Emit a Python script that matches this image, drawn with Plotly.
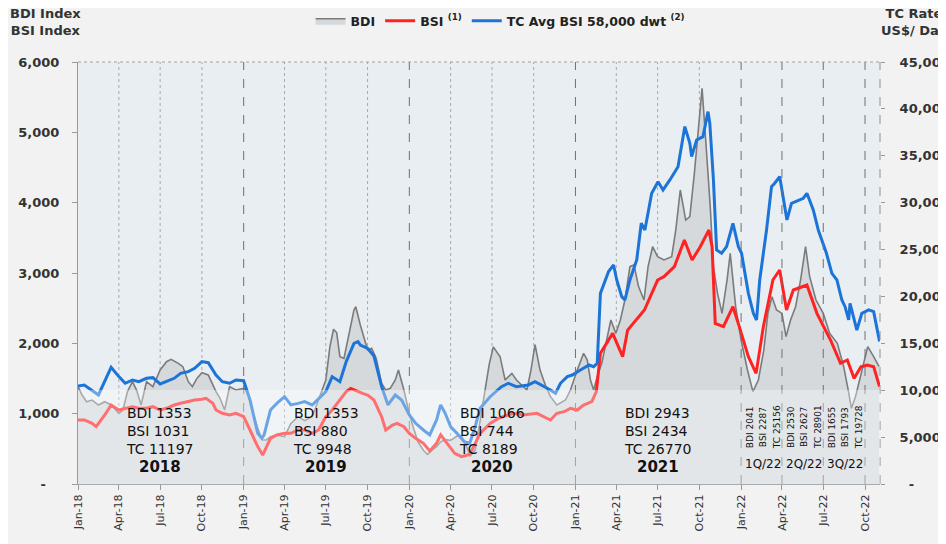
import plotly.graph_objects as go
import pandas as pd

# ---------------- data ----------------
bdi_dates = [
    "2018-01-01", "2018-01-10", "2018-01-20", "2018-02-01", "2018-02-15", "2018-03-01", "2018-03-15",
    "2018-04-01", "2018-04-10", "2018-04-20", "2018-05-01", "2018-05-10", "2018-05-20", "2018-06-01",
    "2018-06-15", "2018-07-01", "2018-07-15", "2018-07-25", "2018-08-10", "2018-08-20", "2018-09-01",
    "2018-09-10", "2018-09-20", "2018-10-01", "2018-10-15", "2018-11-01", "2018-11-10", "2018-11-20",
    "2018-12-01", "2018-12-15",
    "2019-01-01", "2019-01-10", "2019-01-20", "2019-02-01", "2019-02-11", "2019-02-20", "2019-03-01",
    "2019-03-15", "2019-04-01", "2019-04-15", "2019-05-01", "2019-05-15", "2019-06-01", "2019-06-15",
    "2019-07-01", "2019-07-10", "2019-07-18", "2019-07-25", "2019-08-01", "2019-08-10", "2019-08-20",
    "2019-09-01", "2019-09-05", "2019-09-15", "2019-10-01", "2019-10-10", "2019-10-20", "2019-11-01",
    "2019-11-10", "2019-11-20", "2019-12-01", "2019-12-08", "2019-12-20",
    "2020-01-01", "2020-01-10", "2020-01-20", "2020-02-01", "2020-02-10", "2020-02-20", "2020-03-01",
    "2020-03-10", "2020-03-20", "2020-04-01", "2020-04-15", "2020-04-25", "2020-05-05", "2020-05-14",
    "2020-05-25", "2020-06-05", "2020-06-15", "2020-06-25", "2020-07-04", "2020-07-19", "2020-07-30",
    "2020-08-14", "2020-08-24", "2020-09-16", "2020-09-25", "2020-10-04", "2020-10-15", "2020-10-28",
    "2020-11-07", "2020-11-21", "2020-12-10", "2020-12-21",
    "2021-01-05", "2021-01-19", "2021-01-27", "2021-02-03", "2021-02-10", "2021-02-20", "2021-02-28",
    "2021-03-10", "2021-03-20", "2021-03-31", "2021-04-10", "2021-04-20", "2021-05-01", "2021-05-10",
    "2021-05-20", "2021-06-01", "2021-06-10", "2021-06-20", "2021-07-01", "2021-07-15", "2021-08-01",
    "2021-08-10", "2021-08-20", "2021-09-01", "2021-09-10", "2021-09-20", "2021-10-01", "2021-10-07",
    "2021-10-15", "2021-10-25", "2021-11-01", "2021-11-10", "2021-11-20", "2021-12-01", "2021-12-08",
    "2021-12-20",
    "2022-01-01", "2022-01-15", "2022-01-27", "2022-02-08", "2022-02-20", "2022-03-01", "2022-03-10",
    "2022-03-20", "2022-04-01", "2022-04-10", "2022-04-20", "2022-05-01", "2022-05-12", "2022-05-23",
    "2022-06-01", "2022-06-15", "2022-07-01", "2022-07-15", "2022-08-01", "2022-08-15", "2022-08-25",
    "2022-09-01", "2022-09-10", "2022-09-25", "2022-10-07", "2022-10-20", "2022-11-01",
]
bdi_values = [
    1384, 1265, 1170, 1194, 1123, 1170, 1123,
    1005, 1052, 1313, 1455, 1336, 1123, 1455,
    1384, 1621, 1739, 1772, 1716, 1668, 1455,
    1384, 1502, 1583, 1550, 1313, 1218, 1052,
    1384, 1336,
    1360, 1313, 1052, 791, 630, 626, 673,
    697, 673, 862, 957, 900, 957, 1194,
    1479, 1953, 2200, 2150, 1810, 1787, 2095,
    2474, 2521, 2260, 1905, 1929, 1787, 1431,
    1336, 1360, 1479, 1621, 1336,
    1000, 800, 600, 480, 420, 480, 530,
    600, 630, 620, 680, 680, 550, 400,
    480, 900, 1300, 1700, 1950, 1810, 1479,
    1573, 1479, 1336, 1620, 1980, 1620, 1384,
    1242, 1123, 1194, 1336,
    1620, 1858, 1763, 1479, 1336, 1573, 1716,
    2000, 2332, 2142, 2332, 2616, 3090, 3114,
    2806, 2616, 3090, 3374, 3232, 3185, 3232,
    3611, 4180, 3753, 3801, 4417, 5175, 5625,
    4891, 3943, 3090, 2711, 2426, 2900, 3279,
    2521,
    2047, 1621, 1313, 1479, 1905, 2426, 2663,
    2474, 2426, 2095, 2332, 2521, 2900, 3374,
    2948, 2616, 2426, 2142, 2000, 1668, 1336,
    1076, 1242, 1621, 1953, 1810, 1668,
]

bsi_dates = [
    "2018-01-01", "2018-01-15", "2018-02-01", "2018-02-10", "2018-03-01", "2018-03-15", "2018-04-01",
    "2018-04-15", "2018-05-01", "2018-05-15", "2018-06-01", "2018-06-15", "2018-07-01", "2018-07-15",
    "2018-08-01", "2018-08-15", "2018-09-01", "2018-09-15", "2018-10-01", "2018-10-10", "2018-10-25",
    "2018-11-01", "2018-11-15", "2018-12-01", "2018-12-15",
    "2019-01-01", "2019-01-15", "2019-02-01", "2019-02-12", "2019-02-20", "2019-03-01", "2019-03-15",
    "2019-04-01", "2019-04-15", "2019-05-01", "2019-05-15", "2019-06-01", "2019-06-15", "2019-07-01",
    "2019-07-15", "2019-08-01", "2019-08-15", "2019-08-25", "2019-09-10", "2019-09-20", "2019-10-01",
    "2019-10-15", "2019-11-01", "2019-11-10", "2019-11-25", "2019-12-05", "2019-12-20",
    "2020-01-01", "2020-01-15", "2020-02-01", "2020-02-15", "2020-03-01", "2020-03-10", "2020-03-25",
    "2020-04-10", "2020-04-25", "2020-05-13", "2020-06-05", "2020-06-27", "2020-07-15", "2020-07-26",
    "2020-08-17", "2020-09-08", "2020-10-08", "2020-11-07", "2020-11-21", "2020-12-07", "2020-12-21",
    "2021-01-05", "2021-01-19", "2021-02-06", "2021-02-16", "2021-02-25", "2021-03-24", "2021-04-15",
    "2021-04-26", "2021-06-02", "2021-07-01", "2021-07-15", "2021-08-07", "2021-08-29", "2021-09-15",
    "2021-10-03", "2021-10-22", "2021-10-29", "2021-11-05", "2021-11-23", "2021-12-14", "2021-12-28",
    "2022-01-17", "2022-02-03", "2022-02-19", "2022-03-12", "2022-03-27", "2022-04-11", "2022-04-26",
    "2022-05-26", "2022-06-17", "2022-07-17", "2022-08-08", "2022-08-23", "2022-09-07", "2022-09-22",
    "2022-10-06", "2022-10-20", "2022-11-02",
]
bsi_values = [
    910, 910, 862, 815, 981, 1123, 1052,
    1076, 1099, 1076, 1076, 1099, 1052, 1076,
    1123, 1147, 1170, 1194, 1204, 1218, 1147,
    1052, 1005, 981, 1005,
    957, 768, 531, 412, 531, 649, 697,
    720, 720, 768, 768, 720, 768, 957,
    1052, 1194, 1313, 1360, 1313, 1289, 1265,
    1194, 957, 768, 839, 862, 815,
    720, 649, 578, 470, 578, 700, 578,
    436, 389, 420, 720, 862, 933, 957,
    1005, 981, 1005, 910, 1005, 1028, 1076,
    1052, 1123, 1170, 1313, 1858, 2142, 1810,
    2189, 2474, 2900, 2948, 3090, 3469, 3185,
    3374, 3611, 3374, 2284, 2237, 2521, 2237,
    1810, 1573, 2237, 2900, 3043, 2474, 2758,
    2829, 2426, 2047, 1716, 1763, 1502, 1668,
    1692, 1668, 1384,
]

tc_dates = [
    "2018-01-01", "2018-01-15", "2018-02-15", "2018-03-01", "2018-03-15", "2018-04-01", "2018-04-15",
    "2018-05-01", "2018-05-15", "2018-06-01", "2018-06-15", "2018-07-01", "2018-07-15", "2018-08-01",
    "2018-08-15", "2018-09-01", "2018-09-15", "2018-10-01", "2018-10-15", "2018-11-01", "2018-11-15",
    "2018-12-01", "2018-12-15",
    "2019-01-01", "2019-01-15", "2019-02-01", "2019-02-10", "2019-02-15", "2019-03-01", "2019-03-15",
    "2019-04-01", "2019-04-15", "2019-05-01", "2019-05-15", "2019-06-01", "2019-06-15", "2019-07-01",
    "2019-07-15", "2019-08-01", "2019-08-15", "2019-09-01", "2019-09-10", "2019-09-15", "2019-10-01",
    "2019-10-15", "2019-11-01", "2019-11-15", "2019-12-01", "2019-12-15",
    "2020-01-01", "2020-01-15", "2020-02-01", "2020-02-15", "2020-03-01", "2020-03-10", "2020-03-20",
    "2020-04-01", "2020-04-15", "2020-05-01", "2020-05-13", "2020-05-25", "2020-06-05", "2020-06-27",
    "2020-07-22", "2020-08-06", "2020-08-24", "2020-09-19", "2020-10-04", "2020-10-19", "2020-11-07",
    "2020-11-18", "2020-11-29", "2020-12-14", "2020-12-25",
    "2021-01-12", "2021-01-31", "2021-02-10", "2021-02-18", "2021-02-25", "2021-03-15", "2021-03-26",
    "2021-04-02", "2021-04-13", "2021-04-20", "2021-05-01", "2021-05-16", "2021-05-26", "2021-06-03",
    "2021-06-18", "2021-07-02", "2021-07-13", "2021-07-28", "2021-08-15", "2021-08-26", "2021-08-30",
    "2021-09-10", "2021-09-14", "2021-09-25", "2021-10-09", "2021-10-20", "2021-10-24", "2021-11-01",
    "2021-11-08", "2021-11-19", "2021-11-30", "2021-12-14", "2021-12-26",
    "2022-01-02", "2022-01-17", "2022-01-28", "2022-02-04", "2022-02-11", "2022-02-26", "2022-03-09",
    "2022-03-16", "2022-03-27", "2022-04-08", "2022-04-12", "2022-04-22", "2022-05-07", "2022-05-18",
    "2022-05-26", "2022-06-09", "2022-06-20", "2022-07-08", "2022-07-20", "2022-07-31", "2022-08-11",
    "2022-08-18", "2022-08-26", "2022-08-29", "2022-09-13", "2022-09-24", "2022-10-09", "2022-10-20",
    "2022-11-02",
]
tc_values = [
    10450, 10560, 9490, 10900, 12440, 11450, 10740,
    11090, 10910, 11270, 11340, 10670, 10910, 11270,
    11800, 11980, 12340, 13050, 12940, 11620, 10910,
    10740, 11090,
    11020, 8960, 5400, 4870, 5230, 7890, 8600,
    9310, 8430, 8600, 8780, 8430, 9140, 9850,
    11450, 10910, 13050, 15000, 15180, 14820, 14470,
    13650, 10380, 8430, 9490, 8960,
    7360, 6470, 5760, 5230, 6830, 8430, 7540,
    6110, 5400, 4510, 4340, 6110, 8070, 9310,
    10380, 10740, 10380, 10560, 10910, 10560, 10030,
    9670, 10740, 11450, 11620,
    12160, 12690, 12510, 12870, 20330, 22650, 23360,
    21760, 19980, 19620, 21760, 23890, 27800, 27090,
    31000, 32240, 31360, 32420, 33840, 36690, 38110,
    36330, 34910, 36690, 37040, 39710, 38470, 32420,
    24960, 24600, 25310, 27800, 25310,
    24600, 20330, 18200, 17490, 21760, 27090, 31710,
    32070, 32780, 29580, 28160, 29930, 30290, 30470,
    31000, 29220, 27090, 24600, 22470, 21760, 19620,
    18910, 17490, 19270, 16420, 18200, 18560, 18380,
    15200,
]

x_tick_dates = [
    "2018-01-01", "2018-04-01", "2018-07-01", "2018-10-01",
    "2019-01-01", "2019-04-01", "2019-07-01", "2019-10-01",
    "2020-01-01", "2020-04-01", "2020-07-01", "2020-10-01",
    "2021-01-01", "2021-04-01", "2021-07-01", "2021-10-01",
    "2022-01-01", "2022-04-01", "2022-07-01", "2022-10-01",
]
x_tick_labels = [
    "Jan-18", "Apr-18", "Jul-18", "Oct-18",
    "Jan-19", "Apr-19", "Jul-19", "Oct-19",
    "Jan-20", "Apr-20", "Jul-20", "Oct-20",
    "Jan-21", "Apr-21", "Jul-21", "Oct-21",
    "Jan-22", "Apr-22", "Jul-22", "Oct-22",
]
y_left_ticks = [0, 1000, 2000, 3000, 4000, 5000, 6000]
y_left_labels = ["-\u00a0\u00a0\u00a0", "1,000", "2,000", "3,000", "4,000", "5,000", "6,000"]
y_right_ticks = [0, 5000, 10000, 15000, 20000, 25000, 30000, 35000, 40000, 45000]
y_right_labels = ["\u00a0\u00a0-", "5,000", "10,000", "15,000", "20,000", "25,000",
                  "30,000", "35,000", "40,000", "45,000"]

year_labels = ["2018", "2019", "2020", "2021"]
year_centers = ["2018-07-01", "2019-07-01", "2020-07-01", "2021-07-01"]
year_bdi = [1353, 1353, 1066, 2943]
year_bsi = [1031, 880, 744, 2434]
year_tc = [11197, 9948, 8189, 26770]

quarter_labels = ["1Q/22", "2Q/22", "3Q/22"]
quarter_starts = ["2022-01-01", "2022-04-01", "2022-07-01"]
quarter_bdi = [2041, 2530, 1655]
quarter_bsi = [2287, 2627, 1793]
quarter_tc = [25156, 28901, 19728]

# ---------------- figure ----------------
FONT = "DejaVu Sans"
fig = go.Figure()
fig.add_trace(go.Scatter(
    x=bdi_dates, y=bdi_values, name="BDI", mode="lines",
    line=dict(color="#7b7b7b", width=1.6), fill="tozeroy", fillcolor="#d5d9dc"))
fig.add_trace(go.Scatter(
    x=bsi_dates, y=bsi_values, name="BSI <sup>(1)</sup>", mode="lines",
    line=dict(color="#ff2222", width=3)))
fig.add_trace(go.Scatter(
    x=tc_dates, y=tc_values, name="TC Avg BSI 58,000 dwt <sup>(2)</sup>", mode="lines",
    line=dict(color="#1c74d8", width=3), yaxis="y2"))

shapes = []
for d in x_tick_dates[1:]:
    year_start = d.endswith("-01-01")
    in_2022 = d.startswith("2022")
    if year_start or in_2022:
        shapes.append(dict(type="line", xref="x", yref="paper", x0=d, x1=d, y0=0, y1=1,
                           line=dict(color="#707070", width=1, dash="dash"), layer="above"))
    else:
        shapes.append(dict(type="line", xref="x", yref="paper", x0=d, x1=d, y0=0, y1=1,
                           line=dict(color="#a8a8a8", width=1, dash="dot"), layer="below"))
shapes.append(dict(type="line", xref="paper", yref="paper", x0=0, x1=1, y0=1, y1=1,
                   line=dict(color="#a0a0a0", width=1, dash="dot"), layer="above"))
shapes.append(dict(type="line", xref="paper", yref="paper", x0=1, x1=1, y0=0, y1=1,
                   line=dict(color="#909090", width=1, dash="dash"), layer="above"))
shapes.append(dict(type="rect", xref="paper", yref="y", x0=0, x1=1, y0=0, y1=1336,
                   fillcolor="rgba(255,255,255,0.35)", line=dict(width=0), layer="above"))

annotations = []
for lab, xc, b, s, t in zip(year_labels, year_centers, year_bdi, year_bsi, year_tc):
    annotations.append(dict(
        x=xc, y=754, xref="x", yref="y", showarrow=False, align="left",
        text=f"BDI {b}<br>BSI {s}<br>TC {t}", xanchor="center", yanchor="middle",
        font=dict(family=FONT, size=14, color="#111111")))
    annotations.append(dict(
        x=xc, y=242, xref="x", yref="y", showarrow=False, text=lab,
        xanchor="center", yanchor="middle",
        font=dict(family=FONT, size=15, color="#111111", weight="bold")))

for lab, qs, b, s, t in zip(quarter_labels, quarter_starts, quarter_bdi, quarter_bsi, quarter_tc):
    for txt, shift in ((f"BDI {b}", 9), (f"BSI {s}", 22), (f"TC {t}", 36)):
        annotations.append(dict(
            x=qs, y=810, xref="x", yref="y", xshift=shift, showarrow=False, text=txt,
            textangle=-90, xanchor="center", yanchor="middle",
            font=dict(family=FONT, size=9, color="#111111")))
    annotations.append(dict(
        x=qs, y=284, xref="x", yref="y", xshift=22, showarrow=False, text=lab,
        xanchor="center", yanchor="middle",
        font=dict(family=FONT, size=12, color="#111111")))

annotations.append(dict(
    x=-0.04, y=1.095, xref="paper", yref="paper", showarrow=False,
    text="BDI Index<br>BSI Index", xanchor="center", yanchor="middle",
    font=dict(family=FONT, size=13, color="#333333", weight="bold")))
annotations.append(dict(
    x=1.0424, y=1.095, xref="paper", yref="paper", showarrow=False,
    text="TC Rate<br>US$/ Day", xanchor="center", yanchor="middle",
    font=dict(family=FONT, size=13, color="#333333", weight="bold")))

# page body has an 8px margin, so the figure is sized and offset to compensate
fig.update_layout(
    width=938, height=536,
    margin=dict(l=70, r=66, t=54, b=60, autoexpand=False),
    paper_bgcolor="#f2f2f2", plot_bgcolor="#e9eef2",
    font=dict(family=FONT, color="#333333"),
    showlegend=True,
    legend=dict(orientation="h", x=0.29, xanchor="left", y=1.097, yanchor="middle",
                font=dict(family=FONT, size=12.5, color="#222222", weight="bold"),
                bgcolor="rgba(0,0,0,0)", itemwidth=30, tracegroupgap=0),
    shapes=shapes, annotations=annotations,
    xaxis=dict(type="date", range=["2018-01-01", "2022-11-03"],
               tickvals=x_tick_dates, ticktext=x_tick_labels, tickangle=-90,
               ticks="outside", ticklen=5, tickcolor="#999999",
               showline=True, linecolor="#aaaaaa", linewidth=1,
               showgrid=False, zeroline=False,
               tickfont=dict(family=FONT, size=11, color="#333333")),
    yaxis=dict(range=[0, 6000], tickvals=y_left_ticks, ticktext=y_left_labels,
               ticks="outside", ticklen=5, tickcolor="#999999",
               showline=True, linecolor="#999999", linewidth=1,
               showgrid=False, zeroline=False, ticklabelstandoff=10,
               tickfont=dict(family=FONT, size=13, color="#333333", weight="bold")),
    yaxis2=dict(range=[0, 45000], overlaying="y", side="right",
                tickvals=y_right_ticks, ticktext=y_right_labels,
                ticks="outside", ticklen=4, tickcolor="#999999",
                showline=False, showgrid=False, zeroline=False, ticklabelstandoff=12,
                tickfont=dict(family=FONT, size=13, color="#333333", weight="bold")),
)

fig.write_html("out.html")
